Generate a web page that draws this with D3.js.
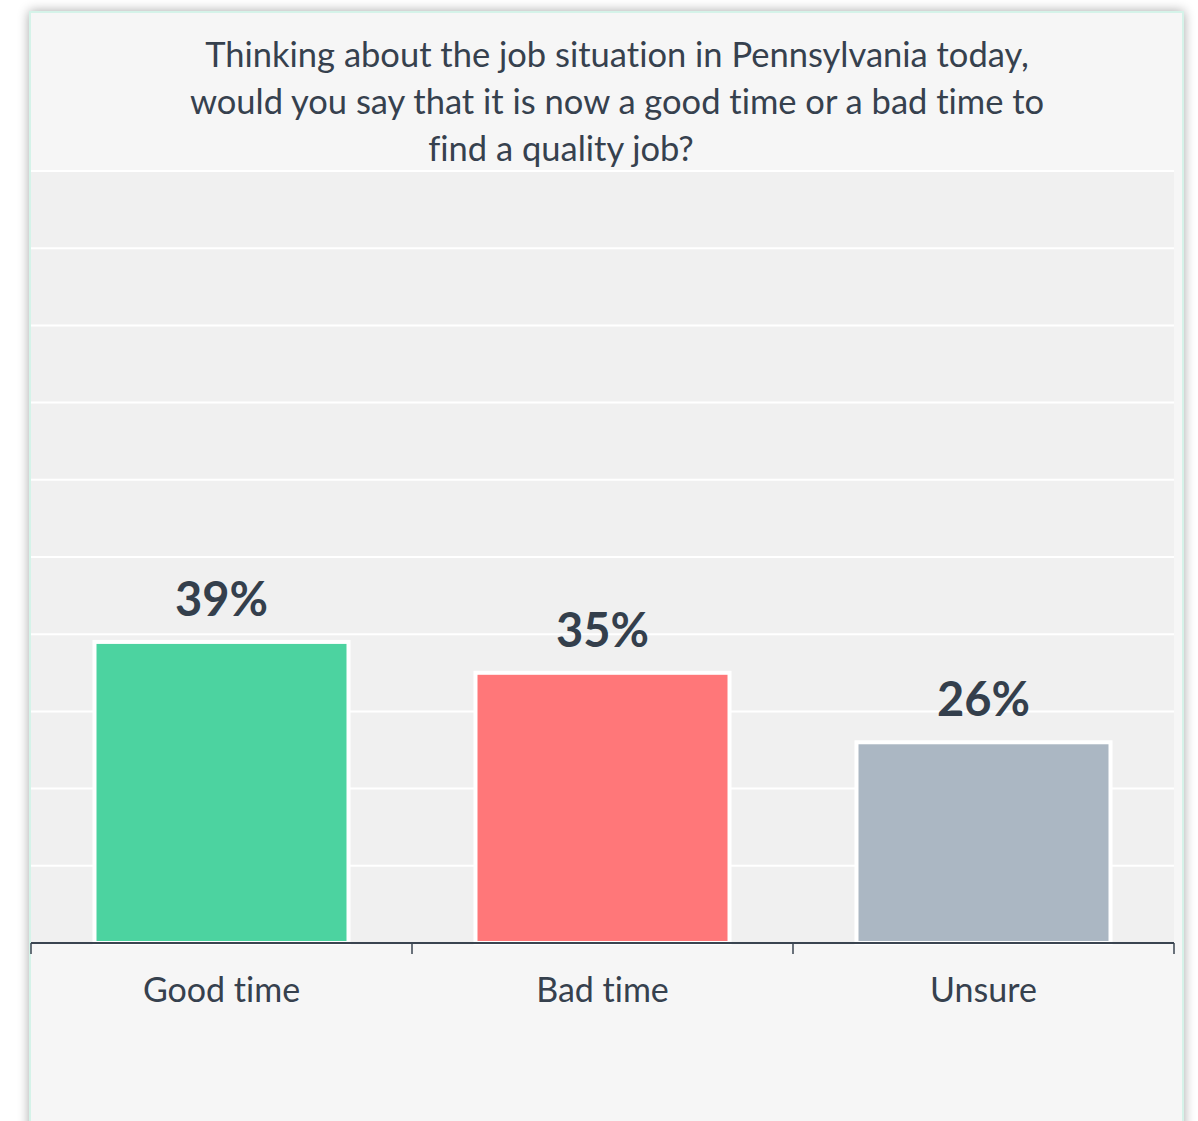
<!DOCTYPE html>
<html>
<head>
<meta charset="utf-8">
<script src="https://cdn.jsdelivr.net/npm/d3@7"></script>
<style>
  body { margin: 0; background: #fff; }
  svg { display: block; }
  text { font-variant-ligatures: none; }
</style>
</head>
<body>
<svg width="1198" height="1121"></svg>
<script>
var categories = ["Good time", "Bad time", "Unsure"];
var values = [39, 35, 26];
var colors = ["#4cd3a0", "#ff7779", "#abb7c3"];
var titleLines = [
  "Thinking about the job situation in Pennsylvania today,",
  "would you say that it is now a good time or a bad time to",
  "find a quality job?"
];

var svg = d3.select("svg");

// card with soft shadow
var defs = svg.append("defs");
var f = defs.append("filter").attr("id", "shadow")
    .attr("x", "-5%").attr("y", "-5%").attr("width", "110%").attr("height", "110%");
f.append("feGaussianBlur").attr("in", "SourceAlpha").attr("stdDeviation", 6);
f.append("feComponentTransfer").append("feFuncA").attr("type", "linear").attr("slope", 0.35);
var m = f.append("feMerge");
m.append("feMergeNode");
m.append("feMergeNode").attr("in", "SourceGraphic");

svg.append("rect")
    .attr("x", 30).attr("y", 12).attr("width", 1153).attr("height", 1130)
    .attr("fill", "#f6f6f6")
    .attr("stroke", "#d5f3e9").attr("stroke-width", 2)
    .attr("filter", "url(#shadow)");

var margin = {top: 171, left: 31, right: 24, bottom: 178},
    width = 1198 - margin.left - margin.right,
    height = 1121 - margin.top - margin.bottom,
    g = svg.append("g").attr("transform", "translate(" + margin.left + "," + margin.top + ")");

var x = d3.scaleBand().domain(categories).range([0, width]).paddingInner(1/3).paddingOuter(1/6);
var y = d3.scaleLinear().domain([0, 100]).range([height, 0]);

g.append("rect")
    .attr("width", width).attr("height", height)
    .attr("fill", "#f0f0f0");

g.selectAll("line.grid")
  .data(y.ticks(10))
  .enter().append("line")
    .attr("class", "grid")
    .attr("x1", 0).attr("x2", width)
    .attr("y1", function(d) { return y(d); })
    .attr("y2", function(d) { return y(d); })
    .attr("stroke", "#ffffff").attr("stroke-width", 2);

g.selectAll("rect.bar")
  .data(values)
  .enter().append("rect")
    .attr("class", "bar")
    .attr("x", function(d, i) { return x(categories[i]); })
    .attr("y", function(d) { return y(d); })
    .attr("width", x.bandwidth())
    .attr("height", function(d) { return height - y(d); })
    .attr("fill", function(d, i) { return colors[i]; })
    .attr("stroke", "#ffffff").attr("stroke-width", 4);

g.selectAll("text.val")
  .data(values)
  .enter().append("text")
    .attr("class", "val")
    .attr("x", function(d, i) { return x(categories[i]) + x.bandwidth() / 2; })
    .attr("y", function(d) { return y(d) - 26; })
    .attr("text-anchor", "middle")
    .attr("font-family", "Lato, sans-serif")
    .attr("font-weight", "bold")
    .attr("font-size", 47)
    .attr("fill", "#343f4c")
    .text(function(d) { return d + "%"; });

// axis with boundary ticks
var ax = g.append("g").attr("transform", "translate(0," + height + ")");
ax.append("line").attr("x1", 0).attr("x2", width).attr("stroke", "#3a4450").attr("stroke-width", 2);
var bounds = [0].concat(categories.map(function(c) { return x(c) + x.bandwidth() + x.step() * x.paddingInner() / 2; }));
bounds[bounds.length - 1] = width;
ax.selectAll("line.tick")
  .data(bounds)
  .enter().append("line")
    .attr("class", "tick")
    .attr("x1", function(d) { return d; }).attr("x2", function(d) { return d; })
    .attr("y1", 0).attr("y2", 11)
    .attr("stroke", "#3a4450").attr("stroke-width", 1.5);

ax.selectAll("text")
  .data(categories)
  .enter().append("text")
    .attr("x", function(d) { return x(d) + x.bandwidth() / 2; })
    .attr("y", 59)
    .attr("text-anchor", "middle")
    .attr("font-family", "Lato, sans-serif")
    .attr("font-size", 34)
    .attr("fill", "#36414e")
    .text(function(d) { return d; });

// last title line sits a little left of centre in the original
svg.append("g").selectAll("text")
  .data(titleLines)
  .enter().append("text")
    .attr("x", function(d, i) { return i === 2 ? 561 : 617; })
    .attr("y", function(d, i) { return 67 + i * 47; })
    .attr("text-anchor", "middle")
    .attr("font-family", "Lato, sans-serif")
    .attr("font-size", 34.5)
    .attr("fill", "#36414e")
    .text(function(d) { return d; });
</script>
</body>
</html>
